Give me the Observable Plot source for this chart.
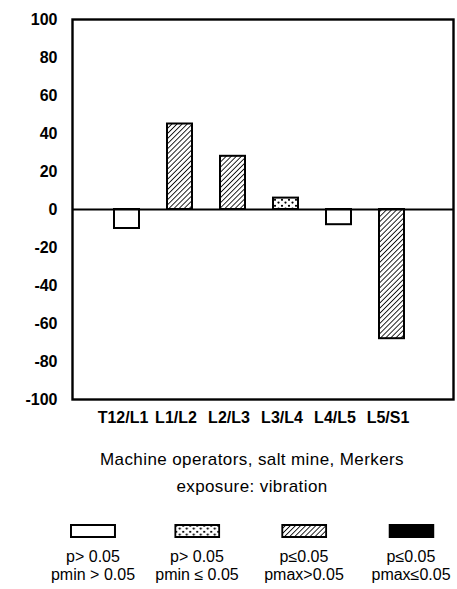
<!DOCTYPE html>
<html>
<head>
<meta charset="utf-8">
<script src="https://cdn.jsdelivr.net/npm/d3@7"></script>
<script src="https://cdn.jsdelivr.net/npm/@observablehq/plot@0.6"></script>
<style>
  body { margin: 0; background: #fff; font-family: "Liberation Sans", Arial, sans-serif; color: #000; }
  #wrap { position: relative; width: 457px; height: 589px; overflow: hidden; }
  .cap { position: absolute; left: 252px; transform: translateX(-50%); white-space: nowrap; text-align: center; font-size: 17px; letter-spacing: 0.4px; }
  .leg { position: absolute; transform: translateX(-50%); text-align: center; font-size: 16px; line-height: 18px; white-space: nowrap; }
  .sw { display: block; margin: 0 auto 10px auto; }
</style>
</head>
<body>
<div id="wrap"></div>
<script>
const categories = ["T12/L1", "L1/L2", "L2/L3", "L3/L4", "L4/L5", "L5/S1"];
const values = [-10, 45, 28, 6, -8, -68];
const classes = ["ns", "pmax", "pmax", "pmin", "ns", "pmax"];
const yTicks = [100, 80, 60, 40, 20, 0, -20, -40, -60, -80, -100];
const legendKeys = ["ns", "pmin", "pmax", "sig"];
const legendLine1 = ["p> 0.05", "p> 0.05", "p≤0.05", "p≤0.05"];
const legendLine2 = ["pmin > 0.05", "pmin ≤ 0.05", "pmax>0.05", "pmax≤0.05"];
const captionLines = ["Machine operators, salt mine, Merkers", "exposure:  vibration"];

const fillFor = {ns: "white", pmin: "url(#stipple)", pmax: "url(#hatch)", sig: "black"};
const data = categories.map((c, i) => ({cat: c, v: values[i], cls: classes[i]}));

const defs = `
<pattern id="hatch" patternUnits="userSpaceOnUse" width="3.6" height="3.6" patternTransform="rotate(45)">
  <rect width="3.6" height="3.6" fill="white"/>
  <line x1="0" y1="0" x2="0" y2="3.6" stroke="black" stroke-width="1.7"/>
</pattern>
<pattern id="stipple" patternUnits="userSpaceOnUse" width="7" height="6">
  <rect width="7" height="6" fill="white"/>
  <circle cx="2" cy="1.8" r="1.1" fill="black"/>
  <circle cx="5.5" cy="4.6" r="1.1" fill="black"/>
</pattern>`;

const chart = Plot.plot({
  width: 457,
  height: 440,
  marginLeft: 72,
  marginRight: 4,
  marginTop: 19,
  marginBottom: 41,
  style: {fontFamily: "'Liberation Sans', Arial, sans-serif", fontSize: "15px", color: "black", background: "white"},
  x: {domain: categories, range: [68, 449], paddingInner: 0.53, paddingOuter: 0.8, label: null},
  y: {domain: [-100, 100], label: null},
  marks: [
    Plot.barY(data, {x: "cat", y: "v", fill: d => fillFor[d.cls], stroke: "black", strokeWidth: 2}),
    Plot.ruleY([0], {stroke: "black", strokeWidth: 2}),
    Plot.frame({stroke: "black", strokeWidth: 2.4}),
    Plot.axisY(yTicks, {tickSize: 0, tickPadding: 15, tickFormat: d => String(d), fontWeight: "bold", fontSize: 16, label: null}),
    Plot.axisX({tickSize: 0, tickPadding: 12, fontSize: 16, fontWeight: "bold", dx: -4, label: null})
  ]
});
const ns = "http://www.w3.org/2000/svg";
const d = document.createElementNS(ns, "defs");
d.innerHTML = defs;
chart.insertBefore(d, chart.firstChild);
chart.style.position = "absolute";
chart.style.left = "0";
chart.style.top = "0";
const wrap = document.getElementById("wrap");
wrap.appendChild(chart);

captionLines.forEach((t, i) => {
  const el = document.createElement("div");
  el.className = "cap";
  el.style.top = (450 + i * 27) + "px";
  el.textContent = t;
  wrap.appendChild(el);
});

const legX = [93, 197, 304, 411];
legendKeys.forEach((k, i) => {
  const el = document.createElement("div");
  el.className = "leg";
  el.style.left = legX[i] + "px";
  el.style.top = "524px";
  el.innerHTML = `<svg class="sw" width="46" height="14"><rect x="1" y="1" width="44" height="12" fill="${fillFor[k]}" stroke="black" stroke-width="2"/></svg>${legendLine1[i]}<br>${legendLine2[i]}`;
  wrap.appendChild(el);
});
</script>
</body>
</html>
